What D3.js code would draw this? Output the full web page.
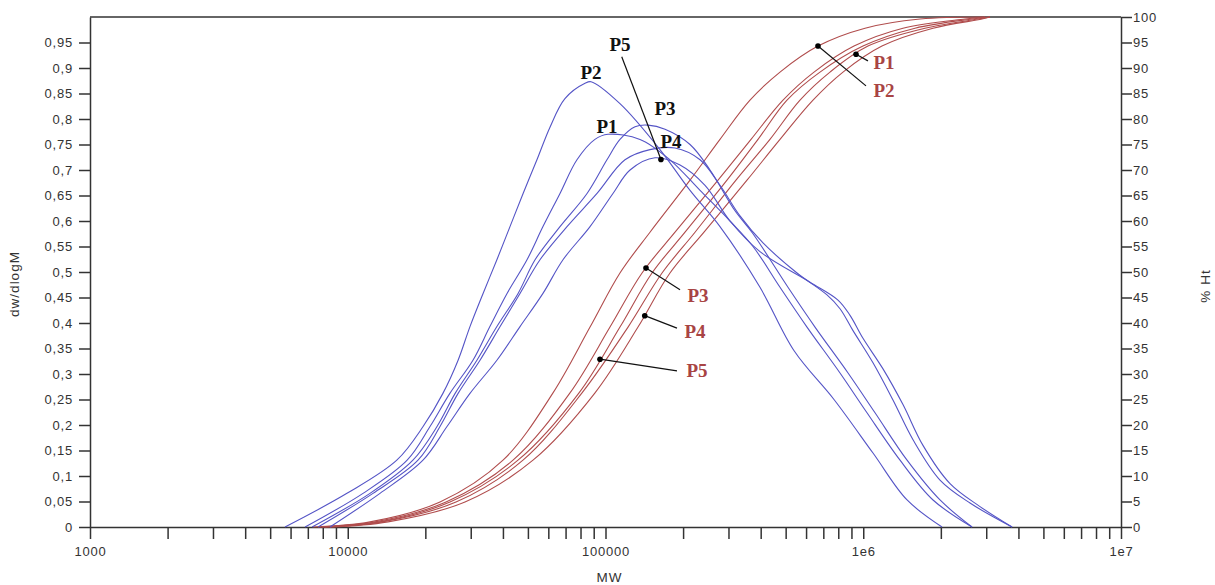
<!DOCTYPE html>
<html><head><meta charset="utf-8">
<script src="https://cdn.jsdelivr.net/npm/d3@7"></script>
<style>
body{margin:0;background:#fff}
svg{display:block}
.axis text{font-family:"Liberation Sans",Arial,sans-serif;font-size:13px;fill:#333;letter-spacing:0.8px}
.axis path,.axis line{stroke:#333;stroke-width:1.5}
.ttl{font-family:"Liberation Sans",Arial,sans-serif;font-size:13.5px;fill:#333;letter-spacing:1px}
.lbl{font-family:"Liberation Serif","Times New Roman",serif;font-size:19px;font-weight:bold}
</style></head><body>
<svg id="c" width="1215" height="585"></svg>
<script>
// ---------- DATA ----------
const seriesNames = ["P1","P2","P3","P4","P5"];
const leftTicks = [0,0.05,0.1,0.15,0.2,0.25,0.3,0.35,0.4,0.45,0.5,0.55,0.6,0.65,0.7,0.75,0.8,0.85,0.9,0.95];
const rightTicks = [0,5,10,15,20,25,30,35,40,45,50,55,60,65,70,75,80,85,90,95,100];
const mwLabelTicks = [1000,10000,100000,1000000,10000000];
const mwTickLabels = ["1000","10000","100000","1e6","1e7"];

// dw/dlogM curves: [MW, dw/dlogM]
const dwP1 = [[6830,0],[11460,0.066],[17000,0.131],[20850,0.197],[24900,0.262],[30600,0.327],[35600,0.393],[41500,0.458],[49600,0.524],[57200,0.589],[66600,0.654],[77500,0.72],[91000,0.76],[102300,0.77],[136100,0.76],[177900,0.72],[232700,0.66],[304100,0.60],[373500,0.55],[475400,0.47],[605000,0.392],[812500,0.302],[1034000,0.224],[1389000,0.131],[1865000,0.053],[2642000,0]];
const dwP2 = [[5710,0],[9930,0.066],[15500,0.131],[19600,0.197],[23400,0.262],[26800,0.327],[29800,0.393],[33500,0.458],[37900,0.524],[42600,0.589],[47900,0.654],[54200,0.72],[60900,0.784],[69600,0.84],[83300,0.87],[87900,0.873],[113800,0.83],[162700,0.74],[212800,0.66],[278100,0.589],[397500,0.47],[540000,0.345],[770000,0.25],[1091000,0.145],[1479000,0.053],[2021000,0]];
const dwP3 = [[7270,0],[12200,0.066],[17900,0.131],[22200,0.197],[26100,0.262],[31700,0.327],[37900,0.393],[45800,0.458],[53300,0.524],[66600,0.589],[84800,0.654],[101300,0.72],[113800,0.76],[130200,0.785],[146200,0.788],[170200,0.78],[212800,0.75],[254400,0.70],[318000,0.62],[373500,0.575],[510500,0.47],[649900,0.392],[873000,0.302],[1111000,0.224],[1479000,0.131],[1985000,0.053],[2642000,0]];
const dwP4 = [[7670,0],[12530,0.066],[18730,0.131],[22800,0.197],[26800,0.262],[32600,0.327],[39000,0.393],[46600,0.458],[55700,0.524],[70900,0.589],[92700,0.654],[119000,0.72],[148800,0.74],[186100,0.743],[232700,0.72],[278100,0.67],[332500,0.61],[408400,0.557],[553400,0.498],[723400,0.455],[812500,0.428],[912600,0.385],[1091000,0.322],[1304000,0.249],[1560000,0.171],[1985000,0.092],[2595000,0.047],[3778000,0]];
const dwP5 = [[8530,0],[13340,0.066],[19580,0.131],[24270,0.197],[29800,0.262],[37900,0.327],[46600,0.393],[57200,0.458],[68400,0.524],[87100,0.589],[106900,0.654],[124500,0.70],[155600,0.724],[194600,0.71],[243300,0.67],[304100,0.60],[397500,0.54],[621500,0.48],[798000,0.445],[888600,0.415],[997700,0.37],[1193000,0.31],[1426000,0.24],[1705000,0.16],[2171000,0.085],[2838000,0.04],[3778000,0]];

// cumulative % Ht curves: MW at each cumulative level
const htLevels = [0,1,4.9,13.1,26.3,39.2,49.8,57.8,68,76,83.7,89.2,94.3,97.8,99.6,100];
const htP1 = [7940,13580,26300,47850,81080,122300,165700,222500,320800,434600,568400,743000,1043000,1736000,2788000,3103000];
const htP2 = [7330,12200,22800,40030,62570,87100,113800,148800,212800,278100,363600,475400,667500,1016000,1661000,2968000];
const htP3 = [7660,12760,24060,43770,72830,104100,138600,186100,273300,366900,488300,644100,920700,1426000,2482000,2968000];
const htP4 = [8530,14330,28500,52330,91060,133700,177900,241100,354000,475400,638400,834500,1182000,1865000,2889000,3103000];
const htP5 = [8160,13340,24930,45760,78940,113800,151500,203500,296000,390600,506000,679500,997700,1588000,2642000,3103000];

// ---------- CHART ----------
const svg = d3.select("#c");
const L = 90, R = 1121, T = 17, B = 527;
const x = d3.scaleLog().domain([1000, 1e7]).range([L, R]);
const yL = d3.scaleLinear().domain([0, 1]).range([B, T]);
const yR = d3.scaleLinear().domain([0, 100]).range([B, T]);

const blue = "#5454c6", red = "#b04c4c";

// axes
const fmtL = d => String(+d.toFixed(2)).replace(".", ",");
svg.append("g").attr("class","axis").attr("transform",`translate(${L},0)`)
  .call(d3.axisLeft(yL).tickValues(leftTicks).tickFormat(fmtL).tickSize(11).tickSizeOuter(0).tickPadding(6));
svg.append("g").attr("class","axis").attr("transform",`translate(${R},0)`)
  .call(d3.axisRight(yR).tickValues(rightTicks).tickSize(11).tickSizeOuter(0).tickPadding(1));
svg.append("g").attr("class","axis").attr("transform",`translate(0,${B})`)
  .call(d3.axisBottom(x).tickValues(x.ticks()).tickSize(12).tickSizeOuter(0).tickPadding(8)
    .tickFormat(d => { const i = mwLabelTicks.indexOf(d); return i >= 0 ? mwTickLabels[i] : ""; }));
svg.selectAll(".axis .domain").attr("stroke","#333");
// top frame
svg.append("line").attr("x1",L).attr("x2",R).attr("y1",T).attr("y2",T).attr("stroke","#333").attr("stroke-width",1.5);

// titles
svg.append("text").attr("class","ttl").attr("transform",`translate(19,${(T+B)/2+12}) rotate(-90)`).attr("text-anchor","middle").text("dw/dlogM");
svg.append("text").attr("class","ttl").attr("transform",`translate(1210,${(T+B)/2+14}) rotate(-90)`).attr("text-anchor","middle").text("% Ht");
svg.append("text").attr("class","ttl").attr("x",x(100000)+4).attr("y",582).attr("text-anchor","middle").text("MW");

// curves
const lineDw = d3.line().x(d => x(d[0])).y(d => yL(Math.max(0,d[1]))).curve(d3.curveCatmullRom.alpha(0.5));
const lineHt = d3.line().x(d => x(d[0])).y(d => yR(d[1])).curve(d3.curveCatmullRom.alpha(0.5));
const dwSeries = {P1:dwP1,P2:dwP2,P3:dwP3,P4:dwP4,P5:dwP5};
const htSeries = {P1:htP1,P2:htP2,P3:htP3,P4:htP4,P5:htP5};
const htPairs = {};
seriesNames.forEach(n => { htPairs[n] = htSeries[n].map((m,i) => [m, htLevels[i]]); });

const gc = svg.append("g");
seriesNames.forEach(n => {
  gc.append("path").attr("d", lineHt(htPairs[n])).attr("fill","none").attr("stroke",red).attr("stroke-width",1.1);
});
seriesNames.forEach(n => {
  gc.append("path").attr("d", lineDw(dwSeries[n])).attr("fill","none").attr("stroke",blue).attr("stroke-width",1.1);
});

// interpolation in log-MW space
function valAt(pts, m) {
  const lm = Math.log10(m);
  for (let i = 1; i < pts.length; i++) {
    const a = Math.log10(pts[i-1][0]), b = Math.log10(pts[i][0]);
    if (lm >= a && lm <= b) { const t = (lm - a)/(b - a); return pts[i-1][1] + t*(pts[i][1]-pts[i-1][1]); }
  }
  return 0;
}

// annotations
const ga = svg.append("g");
const blueLabels = [["P2",87900,0.892],["P1",101300,0.786],["P3",170200,0.82],["P4",179500,0.757]];
blueLabels.forEach(([t,m,v]) => {
  ga.append("text").attr("class","lbl").attr("x",x(m)).attr("y",yL(v)).attr("dy","0.35em").attr("text-anchor","middle").attr("fill","#111").text(t);
});
{
  const m = 164100, v = valAt(dwP5, m);
  ga.append("line").attr("x1",x(115600)).attr("y1",yL(0.922)).attr("x2",x(m)).attr("y2",yL(v)).attr("stroke","#111").attr("stroke-width",1.2);
  ga.append("circle").attr("cx",x(m)).attr("cy",yL(v)).attr("r",2.8).attr("fill","#000");
  ga.append("text").attr("class","lbl").attr("x",x(113800)).attr("y",yL(0.947)).attr("dy","0.35em").attr("text-anchor","middle").attr("fill","#111").text("P5");
}
// red labels: [name, dot MW, leader end MW, leader end %, text MW, text %]
const redLabels = [
  ["P1",937400,1043000,91.4,1204000,91.2],
  ["P2",667500,1025000,86.5,1204000,85.7],
  ["P3",143600,194600,46.5,228500,45.5],
  ["P4",142000,189400,39.0,222500,38.4],
  ["P5",95200,189400,30.6,226500,30.8]
];
redLabels.forEach(([n,dm,em,ep,tm,tp]) => {
  const v = valAt(htPairs[n], dm);
  ga.append("line").attr("x1",x(dm)).attr("y1",yR(v)).attr("x2",x(em)).attr("y2",yR(ep)).attr("stroke","#111").attr("stroke-width",1.2);
  ga.append("circle").attr("cx",x(dm)).attr("cy",yR(v)).attr("r",2.8).attr("fill","#000");
  ga.append("text").attr("class","lbl").attr("x",x(tm)).attr("y",yR(tp)).attr("dy","0.35em").attr("text-anchor","middle").attr("fill","#a84444").text(n);
});
</script>
</body></html>
